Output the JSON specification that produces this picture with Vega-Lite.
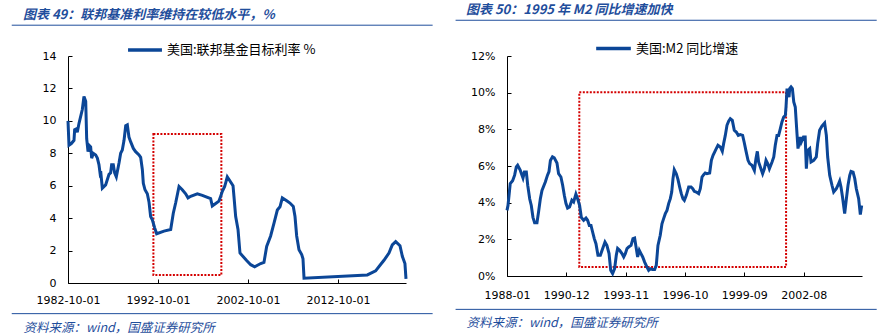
{
  "$schema": "https://vega.github.io/schema/vega-lite/v6.json",
  "background": "white",
  "padding": {"left": 11, "top": 3, "right": 3, "bottom": 0},
  "config": {
    "view": {"stroke": null},
    "axis": {"labelFont": "DejaVu Sans", "labelFontSize": 11, "labelColor": "#000000", "domainColor": "#000000", "tickColor": "#000000", "grid": false, "labelFlush": false, "labelOverlap": false, "labelSeparation": 0, "tickSize": -4, "labelPadding": 16, "domainWidth": 1, "tickWidth": 1}
  },
  "datasets": {
    "fed": [
      {"date": "1982-10-01", "rate": 10.0}, {"date": "1982-11-10", "rate": 8.5}, {"date": "1983-02-13", "rate": 8.6}, {"date": "1983-06-01", "rate": 8.8}, {"date": "1983-06-28", "rate": 9.45}, {"date": "1983-09-04", "rate": 9.5}, {"date": "1983-10-13", "rate": 9.3}, {"date": "1983-12-22", "rate": 9.85}, {"date": "1984-05-04", "rate": 10.7}, {"date": "1984-07-10", "rate": 11.5}, {"date": "1984-09-19", "rate": 11.2}, {"date": "1984-10-28", "rate": 8.9}, {"date": "1984-12-22", "rate": 8.1}, {"date": "1985-02-01", "rate": 8.5}, {"date": "1985-04-07", "rate": 8.4}, {"date": "1985-05-19", "rate": 7.7}, {"date": "1985-07-25", "rate": 8.0}, {"date": "1985-10-28", "rate": 7.9}, {"date": "1986-01-04", "rate": 7.7}, {"date": "1986-03-10", "rate": 7.3}, {"date": "1986-04-22", "rate": 6.8}, {"date": "1986-05-19", "rate": 6.9}, {"date": "1986-07-25", "rate": 5.85}, {"date": "1986-12-07", "rate": 6.05}, {"date": "1987-04-22", "rate": 6.7}, {"date": "1987-06-28", "rate": 6.8}, {"date": "1987-08-07", "rate": 7.3}, {"date": "1987-10-13", "rate": 7.3}, {"date": "1987-12-07", "rate": 6.8}, {"date": "1988-02-13", "rate": 6.55}, {"date": "1988-06-01", "rate": 7.4}, {"date": "1988-08-07", "rate": 8.0}, {"date": "1988-10-13", "rate": 8.2}, {"date": "1988-12-22", "rate": 8.8}, {"date": "1989-02-28", "rate": 9.7}, {"date": "1989-05-04", "rate": 9.75}, {"date": "1989-07-10", "rate": 9.0}, {"date": "1989-09-19", "rate": 8.7}, {"date": "1990-01-04", "rate": 8.3}, {"date": "1990-04-07", "rate": 8.1}, {"date": "1990-08-22", "rate": 7.9}, {"date": "1990-10-28", "rate": 7.75}, {"date": "1991-01-04", "rate": 7.0}, {"date": "1991-02-13", "rate": 6.15}, {"date": "1991-04-22", "rate": 5.75}, {"date": "1991-07-25", "rate": 5.5}, {"date": "1991-10-01", "rate": 5.0}, {"date": "1991-12-07", "rate": 4.1}, {"date": "1992-02-13", "rate": 3.9}, {"date": "1992-05-19", "rate": 3.4}, {"date": "1992-08-07", "rate": 3.04}, {"date": "1993-06-01", "rate": 3.2}, {"date": "1994-02-28", "rate": 3.3}, {"date": "1994-06-13", "rate": 4.3}, {"date": "1994-09-19", "rate": 4.95}, {"date": "1995-02-01", "rate": 5.95}, {"date": "1995-06-13", "rate": 5.75}, {"date": "1995-10-28", "rate": 5.5}, {"date": "1996-02-01", "rate": 5.25}, {"date": "1996-05-19", "rate": 5.35}, {"date": "1997-02-13", "rate": 5.5}, {"date": "1997-09-04", "rate": 5.4}, {"date": "1998-08-07", "rate": 5.2}, {"date": "1998-10-13", "rate": 4.75}, {"date": "1999-02-28", "rate": 4.9}, {"date": "1999-07-10", "rate": 5.05}, {"date": "1999-09-19", "rate": 5.35}, {"date": "1999-11-25", "rate": 5.65}, {"date": "2000-02-28", "rate": 5.95}, {"date": "2000-06-13", "rate": 6.55}, {"date": "2001-02-01", "rate": 6.0}, {"date": "2001-03-10", "rate": 5.35}, {"date": "2001-05-19", "rate": 4.1}, {"date": "2001-08-22", "rate": 3.3}, {"date": "2001-11-10", "rate": 1.85}, {"date": "2002-07-28", "rate": 1.4}, {"date": "2003-01-19", "rate": 1.13}, {"date": "2003-06-28", "rate": 1.0}, {"date": "2004-02-28", "rate": 1.2}, {"date": "2004-07-10", "rate": 1.27}, {"date": "2004-10-28", "rate": 2.25}, {"date": "2005-04-07", "rate": 2.9}, {"date": "2005-08-22", "rate": 3.7}, {"date": "2006-01-04", "rate": 4.5}, {"date": "2006-04-22", "rate": 4.7}, {"date": "2006-07-25", "rate": 5.25}, {"date": "2007-01-19", "rate": 5.07}, {"date": "2007-06-01", "rate": 4.93}, {"date": "2007-10-13", "rate": 4.72}, {"date": "2007-12-22", "rate": 4.1}, {"date": "2008-02-28", "rate": 2.9}, {"date": "2008-06-01", "rate": 2.05}, {"date": "2008-09-19", "rate": 1.75}, {"date": "2008-11-10", "rate": 1.5}, {"date": "2008-12-22", "rate": 0.3}, {"date": "2016-01-04", "rate": 0.5}, {"date": "2016-12-07", "rate": 0.75}, {"date": "2017-07-28", "rate": 1.2}, {"date": "2017-11-10", "rate": 1.4}, {"date": "2018-06-01", "rate": 1.85}, {"date": "2018-10-13", "rate": 2.35}, {"date": "2019-02-28", "rate": 2.55}, {"date": "2019-08-22", "rate": 2.3}, {"date": "2019-11-25", "rate": 1.65}, {"date": "2020-03-10", "rate": 1.2}, {"date": "2020-04-22", "rate": 0.25}
    ],
    "m2": [
      {"date": "1988-01-01", "yoy": 3.58}, {"date": "1988-01-19", "yoy": 3.85}, {"date": "1988-02-28", "yoy": 5.04}, {"date": "1988-04-11", "yoy": 5.2}, {"date": "1988-05-17", "yoy": 5.5}, {"date": "1988-06-16", "yoy": 5.95}, {"date": "1988-07-10", "yoy": 6.04}, {"date": "1988-08-27", "yoy": 5.76}, {"date": "1988-09-26", "yoy": 5.5}, {"date": "1988-10-14", "yoy": 5.35}, {"date": "1988-11-08", "yoy": 5.67}, {"date": "1988-12-13", "yoy": 5.67}, {"date": "1989-01-07", "yoy": 4.95}, {"date": "1989-02-12", "yoy": 4.2}, {"date": "1989-03-12", "yoy": 3.85}, {"date": "1989-04-11", "yoy": 3.2}, {"date": "1989-05-11", "yoy": 2.9}, {"date": "1989-06-22", "yoy": 2.9}, {"date": "1989-07-21", "yoy": 3.5}, {"date": "1989-08-21", "yoy": 4.2}, {"date": "1989-09-20", "yoy": 4.67}, {"date": "1989-11-19", "yoy": 5.13}, {"date": "1989-12-28", "yoy": 5.5}, {"date": "1990-01-24", "yoy": 5.7}, {"date": "1990-02-18", "yoy": 6.3}, {"date": "1990-03-28", "yoy": 6.5}, {"date": "1990-04-28", "yoy": 6.45}, {"date": "1990-06-16", "yoy": 6.16}, {"date": "1990-07-15", "yoy": 5.58}, {"date": "1990-08-26", "yoy": 5.4}, {"date": "1990-09-26", "yoy": 4.95}, {"date": "1990-10-26", "yoy": 4.4}, {"date": "1990-11-25", "yoy": 3.95}, {"date": "1990-12-24", "yoy": 3.7}, {"date": "1991-01-28", "yoy": 3.76}, {"date": "1991-03-11", "yoy": 4.13}, {"date": "1991-04-11", "yoy": 4.04}, {"date": "1991-05-22", "yoy": 4.47}, {"date": "1991-06-21", "yoy": 4.22}, {"date": "1991-07-27", "yoy": 3.85}, {"date": "1991-08-27", "yoy": 3.2}, {"date": "1991-10-08", "yoy": 3.04}, {"date": "1991-11-19", "yoy": 3.16}, {"date": "1991-12-18", "yoy": 3.04}, {"date": "1992-01-18", "yoy": 2.76}, {"date": "1992-02-17", "yoy": 2.76}, {"date": "1992-03-17", "yoy": 2.4}, {"date": "1992-04-16", "yoy": 2.04}, {"date": "1992-05-16", "yoy": 1.76}, {"date": "1992-06-21", "yoy": 1.13}, {"date": "1992-08-03", "yoy": 1.13}, {"date": "1992-09-14", "yoy": 1.5}, {"date": "1992-10-25", "yoy": 1.85}, {"date": "1992-11-28", "yoy": 1.67}, {"date": "1993-01-06", "yoy": 1.22}, {"date": "1993-02-05", "yoy": 0.31}, {"date": "1993-03-11", "yoy": 0.13}, {"date": "1993-04-16", "yoy": 0.4}, {"date": "1993-05-16", "yoy": 1.13}, {"date": "1993-06-09", "yoy": 1.5}, {"date": "1993-07-15", "yoy": 1.4}, {"date": "1993-08-26", "yoy": 1.22}, {"date": "1993-09-26", "yoy": 1.04}, {"date": "1993-10-25", "yoy": 1.22}, {"date": "1993-11-24", "yoy": 1.5}, {"date": "1993-12-24", "yoy": 1.58}, {"date": "1994-02-05", "yoy": 1.67}, {"date": "1994-03-11", "yoy": 2.04}, {"date": "1994-04-10", "yoy": 2.07}, {"date": "1994-05-10", "yoy": 1.5}, {"date": "1994-06-03", "yoy": 1.04}, {"date": "1994-07-03", "yoy": 1.4}, {"date": "1994-08-02", "yoy": 1.22}, {"date": "1994-09-02", "yoy": 1.04}, {"date": "1994-10-07", "yoy": 0.76}, {"date": "1994-11-18", "yoy": 0.49}, {"date": "1994-12-18", "yoy": 0.31}, {"date": "1995-01-17", "yoy": 0.4}, {"date": "1995-02-28", "yoy": 0.35}, {"date": "1995-04-04", "yoy": 0.35}, {"date": "1995-05-04", "yoy": 0.58}, {"date": "1995-06-03", "yoy": 1.67}, {"date": "1995-07-14", "yoy": 2.22}, {"date": "1995-08-14", "yoy": 2.85}, {"date": "1995-09-13", "yoy": 3.13}, {"date": "1995-10-13", "yoy": 3.4}, {"date": "1995-11-12", "yoy": 3.58}, {"date": "1995-12-12", "yoy": 3.95}, {"date": "1996-01-11", "yoy": 4.22}, {"date": "1996-02-05", "yoy": 4.58}, {"date": "1996-02-28", "yoy": 5.31}, {"date": "1996-03-22", "yoy": 5.8}, {"date": "1996-04-27", "yoy": 5.58}, {"date": "1996-05-27", "yoy": 5.27}, {"date": "1996-06-27", "yoy": 4.85}, {"date": "1996-07-26", "yoy": 4.49}, {"date": "1996-08-25", "yoy": 4.22}, {"date": "1996-09-19", "yoy": 4.13}, {"date": "1996-10-24", "yoy": 4.4}, {"date": "1996-12-06", "yoy": 4.85}, {"date": "1997-01-17", "yoy": 4.85}, {"date": "1997-02-17", "yoy": 4.76}, {"date": "1997-03-16", "yoy": 4.62}, {"date": "1997-04-21", "yoy": 4.58}, {"date": "1997-06-03", "yoy": 4.49}, {"date": "1997-07-02", "yoy": 4.76}, {"date": "1997-08-02", "yoy": 5.4}, {"date": "1997-09-01", "yoy": 5.53}, {"date": "1997-09-28", "yoy": 5.62}, {"date": "1997-10-28", "yoy": 5.58}, {"date": "1997-12-17", "yoy": 5.62}, {"date": "1998-01-17", "yoy": 6.31}, {"date": "1998-02-16", "yoy": 6.58}, {"date": "1998-03-16", "yoy": 6.76}, {"date": "1998-04-15", "yoy": 6.95}, {"date": "1998-05-15", "yoy": 7.13}, {"date": "1998-06-26", "yoy": 7.04}, {"date": "1998-08-01", "yoy": 6.8}, {"date": "1998-08-25", "yoy": 7.22}, {"date": "1998-09-24", "yoy": 7.67}, {"date": "1998-10-24", "yoy": 8.22}, {"date": "1998-11-23", "yoy": 8.44}, {"date": "1998-12-23", "yoy": 8.58}, {"date": "1999-01-28", "yoy": 8.49}, {"date": "1999-03-04", "yoy": 7.95}, {"date": "1999-04-09", "yoy": 7.85}, {"date": "1999-05-15", "yoy": 7.67}, {"date": "1999-06-20", "yoy": 7.71}, {"date": "1999-08-01", "yoy": 7.67}, {"date": "1999-08-28", "yoy": 7.31}, {"date": "1999-09-28", "yoy": 6.85}, {"date": "1999-11-06", "yoy": 6.31}, {"date": "1999-12-05", "yoy": 6.13}, {"date": "2000-01-16", "yoy": 6.04}, {"date": "2000-02-28", "yoy": 5.76}, {"date": "2000-03-27", "yoy": 6.4}, {"date": "2000-04-21", "yoy": 6.8}, {"date": "2000-05-14", "yoy": 6.22}, {"date": "2000-06-14", "yoy": 5.95}, {"date": "2000-07-25", "yoy": 5.58}, {"date": "2000-08-25", "yoy": 5.85}, {"date": "2000-09-24", "yoy": 6.31}, {"date": "2000-10-24", "yoy": 6.13}, {"date": "2000-11-23", "yoy": 5.85}, {"date": "2001-01-10", "yoy": 6.22}, {"date": "2001-02-10", "yoy": 6.49}, {"date": "2001-03-09", "yoy": 7.13}, {"date": "2001-04-09", "yoy": 7.67}, {"date": "2001-05-08", "yoy": 7.67}, {"date": "2001-06-08", "yoy": 8.04}, {"date": "2001-07-07", "yoy": 8.4}, {"date": "2001-08-07", "yoy": 8.67}, {"date": "2001-09-06", "yoy": 8.76}, {"date": "2001-09-18", "yoy": 9.22}, {"date": "2001-10-06", "yoy": 10.22}, {"date": "2001-10-23", "yoy": 9.95}, {"date": "2001-11-11", "yoy": 9.76}, {"date": "2001-11-23", "yoy": 10.22}, {"date": "2001-12-17", "yoy": 10.31}, {"date": "2002-01-10", "yoy": 10.22}, {"date": "2002-02-04", "yoy": 9.49}, {"date": "2002-03-03", "yoy": 9.22}, {"date": "2002-04-03", "yoy": 7.76}, {"date": "2002-04-21", "yoy": 6.95}, {"date": "2002-05-14", "yoy": 7.31}, {"date": "2002-06-02", "yoy": 7.58}, {"date": "2002-06-19", "yoy": 7.31}, {"date": "2002-07-28", "yoy": 7.58}, {"date": "2002-08-28", "yoy": 7.58}, {"date": "2002-09-18", "yoy": 5.85}, {"date": "2002-10-12", "yoy": 6.85}, {"date": "2002-11-17", "yoy": 6.95}, {"date": "2002-12-11", "yoy": 6.22}, {"date": "2003-01-28", "yoy": 6.31}, {"date": "2003-03-15", "yoy": 6.49}, {"date": "2003-04-09", "yoy": 7.22}, {"date": "2003-05-14", "yoy": 7.95}, {"date": "2003-06-25", "yoy": 8.18}, {"date": "2003-08-12", "yoy": 8.35}, {"date": "2003-09-12", "yoy": 7.67}, {"date": "2003-10-06", "yoy": 6.49}, {"date": "2003-11-11", "yoy": 5.49}, {"date": "2003-12-22", "yoy": 4.95}, {"date": "2004-01-22", "yoy": 4.58}, {"date": "2004-03-09", "yoy": 4.76}, {"date": "2004-04-08", "yoy": 4.95}, {"date": "2004-05-08", "yoy": 5.18}, {"date": "2004-06-01", "yoy": 4.85}, {"date": "2004-06-28", "yoy": 4.31}, {"date": "2004-08-06", "yoy": 3.4}, {"date": "2004-09-06", "yoy": 4.22}, {"date": "2004-10-05", "yoy": 4.95}, {"date": "2004-11-05", "yoy": 5.49}, {"date": "2004-11-28", "yoy": 5.71}, {"date": "2005-01-04", "yoy": 5.67}, {"date": "2005-02-03", "yoy": 5.31}, {"date": "2005-03-03", "yoy": 4.76}, {"date": "2005-04-14", "yoy": 4.22}, {"date": "2005-05-14", "yoy": 3.35}, {"date": "2005-06-07", "yoy": 3.85}
    ],
    "fedBox": [{"start": "1992-03-28", "end": "1999-10-16", "low": 0.49, "high": 9.19}],
    "m2Box": [{"start": "1991-07-22", "end": "2001-09-19", "low": 0.49, "high": 10.02}]
  },
  "spacing": 21,
  "resolve": {"scale": {"x": "independent", "y": "independent", "color": "independent"}, "legend": {"color": "independent"}},
  "hconcat": [
    {
      "width": 338,
      "height": 227,
      "title": {"text": "图表 49：联邦基准利率维持在较低水平，%", "anchor": "start", "frame": "group", "dx": -45, "offset": -7, "baseline": "alphabetic", "font": "Noto Sans CJK SC", "fontSize": 13, "fontStyle": "italic", "fontWeight": "bold", "color": "#1F4E9C"},
      "layer": [
        {
          "data": {"name": "fedBox"},
          "mark": {"type": "rect", "fillOpacity": 0, "stroke": "#D40000", "strokeWidth": 2, "strokeDash": [2, 1.5]},
          "encoding": {
            "x": {"field": "start", "type": "temporal",
              "scale": {"type": "utc", "domain": [{"year": 1982, "month": 10, "date": 1, "utc": true}, {"year": 2020, "month": 4, "date": 22, "utc": true}]},
              "axis": {"values": [{"year": 1982, "month": 10, "date": 1, "utc": true}, {"year": 1992, "month": 10, "date": 1, "utc": true}, {"year": 2002, "month": 10, "date": 1, "utc": true}, {"year": 2012, "month": 10, "date": 1, "utc": true}], "tickCount": 20,
                "labelExpr": "utcFormat(datum.value, '%Y-%m-%d')", "labelPadding": 15, "labelOverlap": false,
                "title": "资料来源：wind，国盛证券研究所", "titleX": -45, "titleY": 44, "titleAlign": "left", "titleBaseline": "middle", "titleFont": "Noto Sans CJK SC", "titleFontSize": 12.5, "titleFontStyle": "italic", "titleFontWeight": "normal", "titleColor": "#1F4E9C"}},
            "x2": {"field": "end"},
            "y": {"field": "low", "type": "quantitative", "scale": {"domain": [0, 14]}, "axis": {"values": [0, 2, 4, 6, 8, 10, 12, 14], "tickCount": 20, "format": "d", "labelOverlap": false, "title": null}},
            "y2": {"field": "high"}
          }
        },
        {
          "data": {"name": "fed"},
          "mark": {"type": "line", "strokeWidth": 3},
          "encoding": {
            "x": {"field": "date", "type": "temporal"},
            "y": {"field": "rate", "type": "quantitative"},
            "color": {"datum": "美国:联邦基金目标利率 %", "type": "nominal", "scale": {"range": ["#0B4697"]},
              "legend": {"orient": "none", "legendX": 58, "legendY": -25, "title": null, "symbolType": "stroke", "symbolStrokeWidth": 3.5, "symbolSize": 1150, "labelFont": "Noto Sans CJK SC", "labelFontSize": 13, "labelColor": "#000000", "labelOffset": 3, "padding": 0}}
          }
        },
        {
          "data": {"values": [{}]},
          "mark": {"type": "rule", "color": "#1F4E9C", "strokeWidth": 1},
          "encoding": {
            "x": {"datum": {"year": 1976, "month": 7, "date": 1, "utc": true}, "type": "temporal"},
            "x2": {"datum": {"year": 2023, "month": 4, "date": 8, "utc": true}},
            "y": {"datum": 15.9, "type": "quantitative"}
          }
        },
        {
          "data": {"values": [{}]},
          "mark": {"type": "rule", "color": "#1F4E9C", "strokeWidth": 1},
          "encoding": {
            "x": {"datum": {"year": 1976, "month": 7, "date": 1, "utc": true}, "type": "temporal"},
            "x2": {"datum": {"year": 2023, "month": 4, "date": 8, "utc": true}},
            "y": {"datum": -1.89, "type": "quantitative"}
          }
        }
      ]
    },
    {
      "width": 355,
      "height": 220,
      "title": {"text": "图表 50：1995 年 M2 同比增速加快", "anchor": "start", "frame": "group", "dx": -41, "offset": -7, "baseline": "alphabetic", "font": "Noto Sans CJK SC", "fontSize": 13, "fontStyle": "italic", "fontWeight": "bold", "color": "#1F4E9C"},
      "layer": [
        {
          "data": {"name": "m2Box"},
          "mark": {"type": "rect", "fillOpacity": 0, "stroke": "#D40000", "strokeWidth": 2, "strokeDash": [2, 1.5]},
          "encoding": {
            "x": {"field": "start", "type": "temporal",
              "scale": {"type": "utc", "domain": [{"year": 1988, "month": 1, "date": 1, "utc": true}, {"year": 2005, "month": 6, "date": 13, "utc": true}]},
              "axis": {"values": [{"year": 1988, "month": 1, "date": 1, "utc": true}, {"year": 1990, "month": 12, "date": 1, "utc": true}, {"year": 1993, "month": 11, "date": 1, "utc": true}, {"year": 1996, "month": 10, "date": 1, "utc": true}, {"year": 1999, "month": 9, "date": 1, "utc": true}, {"year": 2002, "month": 8, "date": 1, "utc": true}], "tickCount": 20,
                "labelExpr": "utcFormat(datum.value, '%Y-%m')", "labelPadding": 17, "labelOverlap": false,
                "title": "资料来源：wind，国盛证券研究所", "titleX": -41, "titleY": 46, "titleAlign": "left", "titleBaseline": "middle", "titleFont": "Noto Sans CJK SC", "titleFontSize": 12.5, "titleFontStyle": "italic", "titleFontWeight": "normal", "titleColor": "#1F4E9C"}},
            "x2": {"field": "end"},
            "y": {"field": "low", "type": "quantitative", "scale": {"domain": [0, 12]}, "axis": {"values": [0, 2, 4, 6, 8, 10, 12], "tickCount": 20, "labelExpr": "format(datum.value, 'd') + '%'", "labelOverlap": false, "title": null}},
            "y2": {"field": "high"}
          }
        },
        {
          "data": {"name": "m2"},
          "mark": {"type": "line", "strokeWidth": 3},
          "encoding": {
            "x": {"field": "date", "type": "temporal"},
            "y": {"field": "yoy", "type": "quantitative"},
            "color": {"datum": "美国:M2 同比增速", "type": "nominal", "scale": {"range": ["#0B4697"]},
              "legend": {"orient": "none", "legendX": 87, "legendY": -27, "title": null, "symbolType": "stroke", "symbolStrokeWidth": 3.5, "symbolSize": 1200, "labelFont": "Noto Sans CJK SC", "labelFontSize": 13, "labelColor": "#000000", "labelOffset": 3, "padding": 0}}
          }
        },
        {
          "data": {"values": [{}]},
          "mark": {"type": "rule", "color": "#1F4E9C", "strokeWidth": 1},
          "encoding": {
            "x": {"datum": {"year": 1985, "month": 6, "date": 22, "utc": true}, "type": "temporal"},
            "x2": {"datum": {"year": 2006, "month": 3, "date": 4, "utc": true}},
            "y": {"datum": 13.95, "type": "quantitative"}
          }
        },
        {
          "data": {"values": [{}]},
          "mark": {"type": "rule", "color": "#1F4E9C", "strokeWidth": 1},
          "encoding": {
            "x": {"datum": {"year": 1985, "month": 6, "date": 22, "utc": true}, "type": "temporal"},
            "x2": {"datum": {"year": 2006, "month": 3, "date": 4, "utc": true}},
            "y": {"datum": -1.82, "type": "quantitative"}
          }
        }
      ]
    }
  ]
}
